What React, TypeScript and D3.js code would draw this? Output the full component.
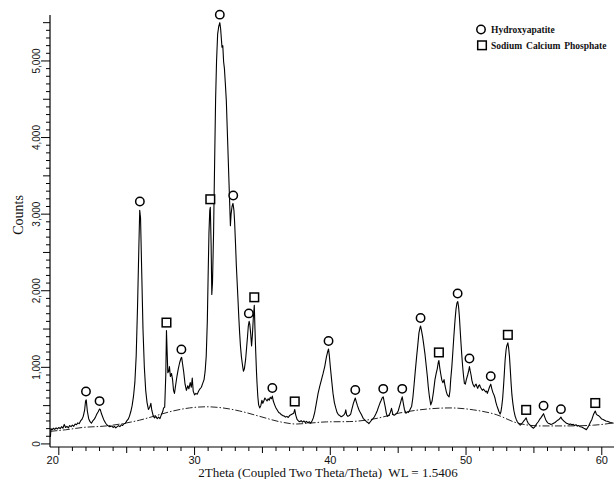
import React from "react";
import * as d3 from "d3";

// XRD pattern: [2Theta, Counts]
const pattern: [number, number][] = [
  [19.38, 90], [19.42, 200], [19.5, 185], [19.6, 205], [19.7, 190], [19.8, 210], [19.9, 195],
  [20.0, 215], [20.1, 200], [20.2, 225], [20.3, 205], [20.4, 255], [20.5, 215], [20.6, 230],
  [20.7, 210], [20.8, 240], [20.9, 225], [21.0, 245], [21.1, 230], [21.2, 260], [21.3, 250],
  [21.4, 275], [21.5, 265], [21.6, 300], [21.7, 320], [21.8, 360], [21.9, 440], [21.97, 560],
  [22.02, 575], [22.1, 430], [22.2, 330], [22.3, 290], [22.4, 270], [22.5, 300], [22.6, 320],
  [22.7, 350], [22.8, 390], [22.9, 420], [23.0, 455], [23.05, 450], [23.15, 390], [23.3, 320],
  [23.45, 270], [23.6, 240], [23.75, 225], [23.9, 235], [24.0, 215], [24.1, 230], [24.2, 210],
  [24.3, 225], [24.4, 240], [24.5, 225], [24.6, 250], [24.7, 240], [24.8, 265], [24.9, 270],
  [25.0, 300], [25.1, 320], [25.2, 360], [25.3, 420], [25.4, 500], [25.5, 620], [25.6, 800],
  [25.7, 1150], [25.8, 1800], [25.9, 2600], [25.96, 3050], [26.02, 2950], [26.1, 2300],
  [26.2, 1500], [26.3, 1000], [26.4, 700], [26.5, 540], [26.6, 450], [26.7, 480], [26.78, 530],
  [26.85, 440], [26.95, 370], [27.05, 340], [27.15, 360], [27.25, 330], [27.35, 350],
  [27.45, 330], [27.55, 380], [27.65, 420], [27.72, 470], [27.8, 480], [27.88, 900],
  [27.93, 1480], [27.98, 1200], [28.03, 930], [28.1, 950], [28.15, 1010], [28.22, 880],
  [28.3, 920], [28.38, 840], [28.45, 700], [28.52, 660], [28.6, 760], [28.7, 880], [28.8, 980],
  [28.9, 1060], [29.0, 1120], [29.05, 1130], [29.12, 1040], [29.2, 940], [29.3, 780],
  [29.4, 700], [29.5, 760], [29.58, 720], [29.68, 800], [29.76, 740], [29.83, 860], [29.9, 690],
  [30.0, 640], [30.1, 660], [30.2, 650], [30.3, 690], [30.4, 720], [30.5, 740], [30.6, 790],
  [30.7, 840], [30.78, 950], [30.86, 1150], [30.94, 1600], [31.0, 2200], [31.06, 2750],
  [31.12, 3050], [31.16, 3090], [31.22, 2600], [31.27, 1950], [31.32, 2100], [31.4, 2750],
  [31.48, 3700], [31.55, 4500], [31.62, 5000], [31.7, 5350], [31.78, 5450], [31.86, 5500],
  [31.92, 5420], [31.97, 5300], [32.02, 5180], [32.08, 5200], [32.14, 4990], [32.2, 4900],
  [32.27, 4700], [32.34, 4480], [32.4, 4150], [32.46, 3830], [32.52, 3500], [32.58, 3180],
  [32.64, 2850], [32.69, 3000], [32.76, 3100], [32.83, 3140], [32.9, 3050], [32.95, 2900],
  [33.02, 2600], [33.08, 2320], [33.14, 2100], [33.2, 1880], [33.26, 1650], [33.32, 1450],
  [33.38, 1280], [33.45, 1140], [33.53, 1030], [33.6, 950], [33.67, 980], [33.76, 1100],
  [33.83, 1250], [33.9, 1400], [33.96, 1540], [34.02, 1600], [34.07, 1560], [34.13, 1450],
  [34.2, 1280], [34.26, 1420], [34.33, 1650], [34.4, 1810], [34.45, 1500], [34.5, 1230],
  [34.56, 950], [34.6, 800], [34.66, 620], [34.72, 510], [34.8, 470], [34.88, 500],
  [34.96, 570], [35.03, 530], [35.1, 560], [35.18, 600], [35.26, 580], [35.34, 560],
  [35.42, 590], [35.5, 570], [35.58, 610], [35.66, 590], [35.73, 625], [35.8, 560], [35.9, 510],
  [36.0, 470], [36.1, 440], [36.2, 410], [36.3, 400], [36.4, 380], [36.5, 370], [36.6, 365],
  [36.7, 350], [36.8, 360], [36.9, 345], [37.0, 370], [37.1, 380], [37.2, 390], [37.3, 400],
  [37.38, 450], [37.45, 380], [37.55, 320], [37.65, 300], [37.75, 290], [37.85, 305],
  [37.95, 285], [38.05, 300], [38.15, 280], [38.25, 295], [38.35, 275], [38.45, 290],
  [38.55, 270], [38.65, 300], [38.75, 340], [38.86, 420], [38.98, 540], [39.1, 660],
  [39.22, 750], [39.35, 840], [39.47, 920], [39.59, 1010], [39.66, 1080], [39.72, 1140],
  [39.8, 1200], [39.87, 1240], [39.93, 1150], [40.0, 1010], [40.1, 830], [40.2, 660],
  [40.3, 540], [40.4, 470], [40.5, 410], [40.6, 380], [40.7, 370], [40.8, 355], [40.9, 365],
  [41.0, 380], [41.08, 400], [41.14, 445], [41.2, 380], [41.3, 360], [41.4, 370], [41.5, 390],
  [41.6, 460], [41.7, 530], [41.78, 570], [41.84, 600], [41.9, 560], [42.0, 500], [42.1, 450],
  [42.18, 420], [42.3, 380], [42.42, 335], [42.55, 310], [42.67, 290], [42.76, 280],
  [42.84, 265], [42.95, 290], [43.04, 310], [43.15, 330], [43.25, 355], [43.35, 390],
  [43.45, 430], [43.53, 470], [43.65, 530], [43.75, 570], [43.82, 600], [43.9, 615],
  [43.96, 560], [44.05, 480], [44.13, 400], [44.2, 360], [44.3, 370], [44.4, 400],
  [44.51, 465], [44.6, 390], [44.7, 375], [44.8, 385], [44.9, 400], [45.0, 430], [45.13, 510],
  [45.22, 570], [45.3, 615], [45.38, 530], [45.46, 450], [45.57, 400], [45.66, 420],
  [45.75, 410], [45.85, 440], [45.93, 470], [45.99, 490], [46.08, 600], [46.16, 750],
  [46.26, 950], [46.36, 1140], [46.45, 1300], [46.53, 1450], [46.6, 1510], [46.65, 1540],
  [46.72, 1480], [46.8, 1400], [46.88, 1300], [46.97, 1180], [47.06, 1030], [47.15, 880],
  [47.22, 740], [47.3, 620], [47.4, 510], [47.5, 560], [47.6, 680], [47.71, 840], [47.8, 920],
  [47.88, 980], [47.95, 1060], [48.0, 1090], [48.06, 1000], [48.13, 920], [48.22, 830],
  [48.3, 800], [48.38, 840], [48.45, 760], [48.55, 680], [48.62, 640], [48.7, 625],
  [48.75, 615], [48.82, 700], [48.87, 840], [48.95, 1000], [49.02, 1180], [49.1, 1400],
  [49.19, 1620], [49.26, 1760], [49.33, 1840], [49.39, 1860], [49.45, 1790], [49.51, 1660],
  [49.57, 1480], [49.63, 1310], [49.69, 1150], [49.75, 1010], [49.82, 880], [49.88, 790],
  [49.95, 780], [50.02, 840], [50.12, 900], [50.2, 960], [50.25, 1010], [50.3, 960],
  [50.37, 900], [50.43, 830], [50.49, 790], [50.56, 760], [50.62, 745], [50.68, 770],
  [50.74, 780], [50.8, 750], [50.86, 725], [50.93, 760], [51.0, 770], [51.06, 740],
  [51.13, 720], [51.2, 700], [51.28, 715], [51.36, 700], [51.45, 680], [51.52, 690],
  [51.57, 660], [51.65, 700], [51.72, 740], [51.82, 780], [51.9, 720], [51.98, 670],
  [52.06, 640], [52.13, 600], [52.19, 550], [52.27, 500], [52.35, 460], [52.43, 420],
  [52.51, 390], [52.57, 420], [52.63, 490], [52.7, 600], [52.76, 750], [52.82, 920],
  [52.88, 1100], [52.95, 1230], [53.0, 1280], [53.08, 1320], [53.14, 1250], [53.2, 1140],
  [53.26, 970], [53.32, 790], [53.38, 640], [53.45, 530], [53.53, 430], [53.62, 360],
  [53.7, 320], [53.78, 290], [53.86, 270], [53.93, 255], [53.99, 245], [54.08, 260],
  [54.17, 280], [54.26, 300], [54.35, 320], [54.43, 340], [54.5, 300], [54.58, 270],
  [54.66, 255], [54.74, 240], [54.82, 225], [54.9, 215], [54.97, 205], [55.05, 220],
  [55.14, 245], [55.23, 270], [55.32, 290], [55.42, 320], [55.51, 340], [55.62, 370],
  [55.71, 395], [55.78, 360], [55.86, 320], [55.95, 290], [56.05, 270], [56.15, 265],
  [56.25, 255], [56.35, 260], [56.45, 270], [56.55, 280], [56.65, 295], [56.75, 310],
  [56.85, 320], [56.92, 335], [56.99, 350], [57.08, 320], [57.2, 300], [57.3, 285],
  [57.4, 270], [57.5, 265], [57.6, 255], [57.7, 260], [57.8, 250], [57.9, 255], [58.0, 240],
  [58.1, 250], [58.2, 235], [58.3, 240], [58.41, 225], [58.52, 220], [58.62, 210],
  [58.72, 200], [58.8, 195], [58.86, 185], [58.95, 210], [59.05, 240], [59.15, 280],
  [59.27, 320], [59.38, 380], [59.46, 410], [59.52, 430], [59.6, 390], [59.68, 375],
  [59.76, 370], [59.84, 355], [59.92, 340], [60.0, 325], [60.1, 320], [60.2, 310],
  [60.3, 300], [60.4, 295], [60.5, 290], [60.63, 280], [60.75, 275], [60.87, 270],
];

// Fitted background (dash-dot)
const background: [number, number][] = [
  [19.38, 165], [20.5, 185], [21.76, 215], [23.5, 235], [24.7, 265], [25.94, 310],
  [27.17, 370], [28.4, 430], [29.63, 470], [30.86, 485], [32.09, 470], [33.32, 430],
  [34.8, 360], [36.27, 290], [37.5, 260], [38.5, 272], [39.72, 288], [41.44, 292],
  [43.16, 325], [45.13, 405], [47.1, 455], [48.82, 470], [50.54, 445], [52.27, 380],
  [53.74, 275], [55.46, 235], [57.43, 235], [59.4, 245], [60.87, 275],
];

// Phase markers: peak positions [2Theta, Counts]
const hydroxyapatitePeaks: [number, number][] = [
  [22.0, 580], [23.0, 455], [25.97, 3060], [29.03, 1130], [31.86, 5500], [32.85, 3140],
  [34.0, 1600], [35.73, 625], [39.87, 1240], [41.84, 600], [43.9, 615], [45.3, 615],
  [46.65, 1540], [49.38, 1860], [50.25, 1010], [51.82, 780], [55.71, 395], [56.99, 350],
];
const sodiumCalciumPhosphatePeaks: [number, number][] = [
  [27.93, 1480], [31.16, 3090], [34.4, 1810], [37.38, 450], [48.0, 1090], [53.08, 1320],
  [54.43, 340], [59.52, 430],
];

const xTickLabels = [20, 30, 40, 50, 60];
const yTickLabels = [0, 1000, 2000, 3000, 4000, 5000];
const legendLabels = ["Hydroxyapatite", "Sodium Calcium Phosphate"];
const xTitle = "2Theta (Coupled Two Theta/Theta)  WL = 1.5406";
const yTitle = "Counts";

const W = 614;
const H = 479;
const SERIF = "'Liberation Serif', 'Times New Roman', serif";
const SANS = "'Liberation Sans', Arial, sans-serif";

export default function App() {
  const x = d3.scaleLinear().domain([19.35, 60.9]).range([50, 614]);
  const y = d3.scaleLinear().domain([-40, 5600]).range([447, 15]);

  const line = d3
    .line<[number, number]>()
    .x((d) => x(d[0]))
    .y((d) => y(d[1]));
  const bgLine = d3
    .line<[number, number]>()
    .x((d) => x(d[0]))
    .y((d) => y(d[1]))
    .curve(d3.curveMonotoneX);

  const x0 = x.range()[0];
  const yBottom = y.range()[0];
  const yTop = y.range()[1];

  const yMinor = d3.range(0, 5501, 100);
  const xMinor = d3.range(20, 61, 1);

  const markerOffset = 8;

  return (
    <svg
      width={W}
      height={H}
      style={{ position: "absolute", left: 0, top: 0, background: "#fff" }}
    >
      {/* axes */}
      <line x1={x0} x2={x0} y1={yTop} y2={yBottom} stroke="#000" strokeWidth={1.2} />
      <line x1={x0} x2={W} y1={yBottom} y2={yBottom} stroke="#000" strokeWidth={1.2} />
      {yMinor.map((v) => {
        const len = v % 1000 === 0 ? 9 : v % 500 === 0 ? 7 : 4;
        return (
          <line key={"yt" + v} x1={x0 - len} x2={x0} y1={y(v)} y2={y(v)} stroke="#000" strokeWidth={1} />
        );
      })}
      {xMinor.map((t) => {
        const len = t % 10 === 0 ? 8 : t % 5 === 0 ? 6 : 4;
        return (
          <line key={"xt" + t} x1={x(t)} x2={x(t)} y1={yBottom} y2={yBottom + len} stroke="#000" strokeWidth={1} />
        );
      })}
      {yTickLabels.map((v) => (
        <text
          key={"yl" + v}
          transform={`translate(39.5,${y(v)}) rotate(-90)`}
          textAnchor="middle"
          fontFamily={SANS}
          fontSize={10}
          fill="#111"
        >
          {d3.format(",")(v)}
        </text>
      ))}
      {xTickLabels.map((t, i) => (
        <text
          key={"xl" + t}
          x={x(t)}
          y={464}
          textAnchor={i === 0 ? "end" : "middle"}
          fontFamily={SANS}
          fontSize={11}
          fill="#111"
        >
          {t}
        </text>
      ))}
      <text
        transform={`translate(22.5,215) rotate(-90)`}
        textAnchor="middle"
        fontFamily={SERIF}
        fontSize={14}
        fill="#111"
      >
        {yTitle}
      </text>
      <text x={328} y={477} textAnchor="middle" fontFamily={SERIF} fontSize={13} fill="#111" style={{ whiteSpace: "pre" }}>
        {xTitle}
      </text>

      {/* background */}
      <path
        d={bgLine(background) || ""}
        fill="none"
        stroke="#222"
        strokeWidth={1}
        strokeDasharray="7,2,1.5,2"
      />
      {/* pattern */}
      <path d={line(pattern) || ""} fill="none" stroke="#000" strokeWidth={1.1} strokeLinejoin="round" />

      {/* markers */}
      {hydroxyapatitePeaks.map((p, i) => (
        <circle
          key={"ha" + i}
          cx={x(p[0])}
          cy={y(p[1]) - markerOffset}
          r={4.2}
          fill="#fff"
          stroke="#000"
          strokeWidth={1.5}
        />
      ))}
      {sodiumCalciumPhosphatePeaks.map((p, i) => (
        <rect
          key={"scp" + i}
          x={x(p[0]) - 4.3}
          y={y(p[1]) - markerOffset - 4.3}
          width={8.6}
          height={8.6}
          fill="#fff"
          stroke="#000"
          strokeWidth={1.5}
        />
      ))}

      {/* legend */}
      <circle cx={481} cy={29.5} r={4.2} fill="#fff" stroke="#000" strokeWidth={1.5} />
      <text x={491} y={33} fontFamily={SERIF} fontSize={9.5} fontWeight="bold" fill="#111">
        {legendLabels[0]}
      </text>
      <rect x={477.7} y={41} width={8.6} height={8.6} fill="#fff" stroke="#000" strokeWidth={1.5} />
      <text x={491} y={49} fontFamily={SERIF} fontSize={9.5} fontWeight="bold" fill="#111" wordSpacing={1.5}>
        {legendLabels[1]}
      </text>
    </svg>
  );
}
